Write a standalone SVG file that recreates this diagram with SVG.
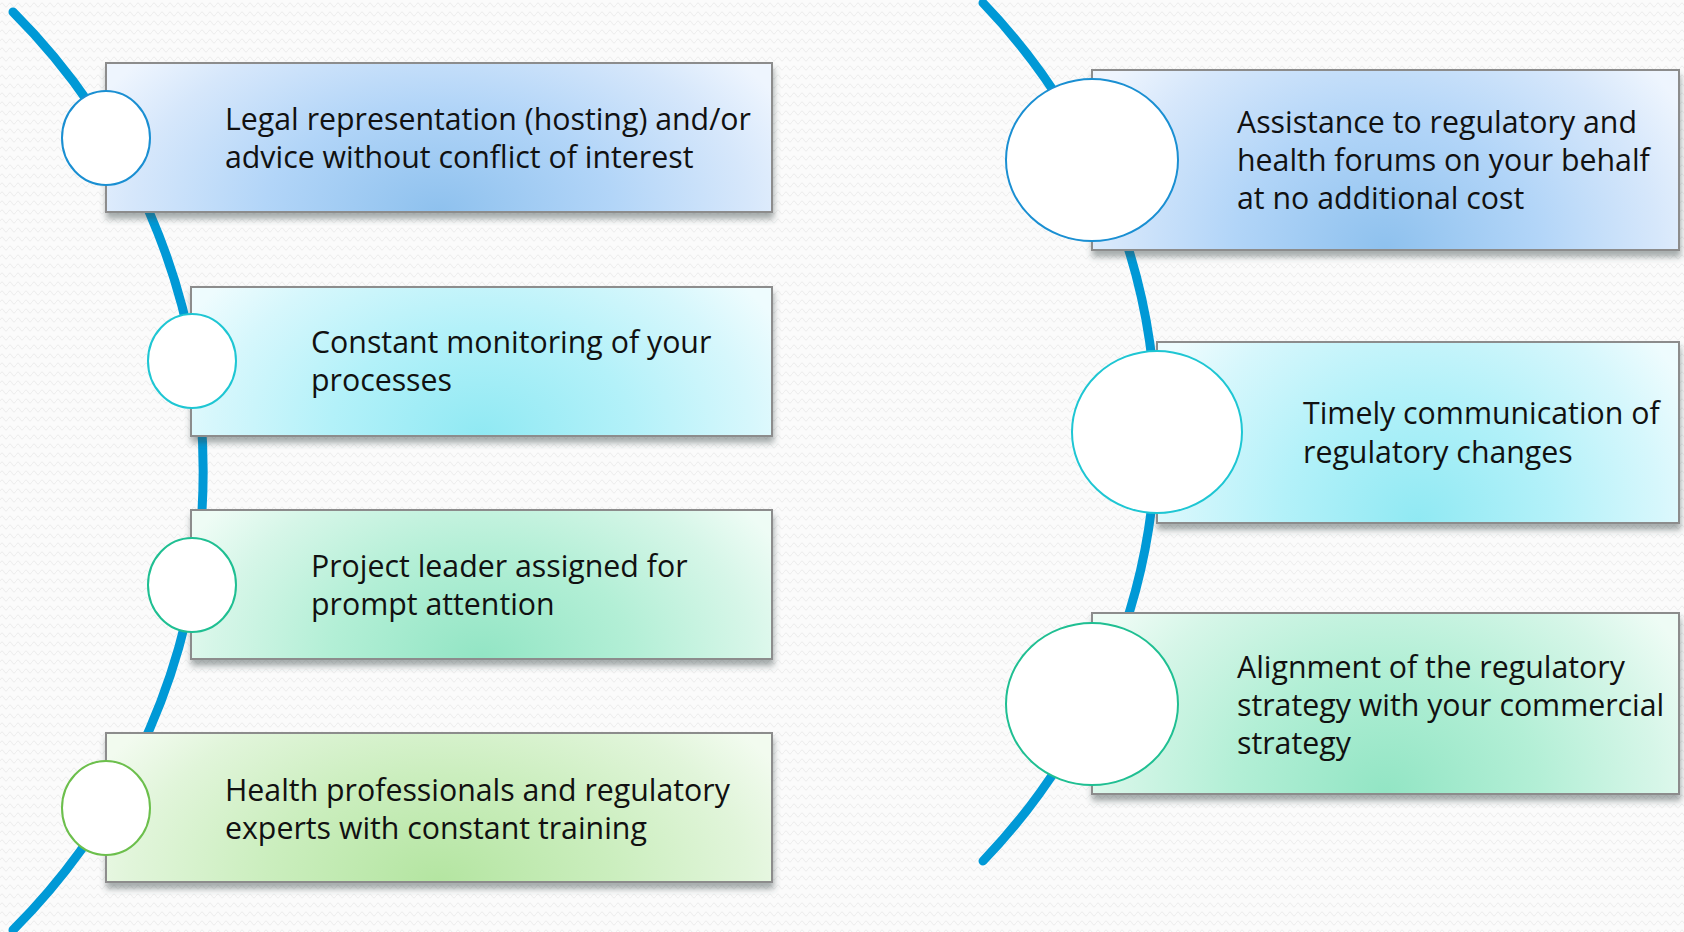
<svg xmlns="http://www.w3.org/2000/svg" width="1684" height="932" viewBox="0 0 1684 932">
<defs>
<pattern id="bgp" width="8" height="9" patternUnits="userSpaceOnUse">
<rect width="8" height="9" fill="#fbfbfb"/>
<path d="M0 5 Q1 3 2 3 Q3 3 4 5 Q5 7 6 7 Q7 7 8 5" fill="none" stroke="#ededed" stroke-width="1"/>
</pattern>
<filter id="sh" x="-5%" y="-10%" width="110%" height="130%">
<feDropShadow dx="1" dy="6" stdDeviation="3" flood-color="#3a4a4a" flood-opacity="0.45"/>
</filter>
<radialGradient id="gBlue" cx="0.5" cy="1" r="1" gradientTransform="translate(0.5,1) scale(0.58,1.6) translate(-0.5,-1)">
<stop offset="0" stop-color="#8ec1ee"/><stop offset="0.45" stop-color="#b2d5f8"/><stop offset="0.8" stop-color="#d6e7fb"/><stop offset="1" stop-color="#eef5fe"/>
</radialGradient>
<radialGradient id="gCyan" cx="0.5" cy="1" r="1" gradientTransform="translate(0.5,1) scale(0.58,1.6) translate(-0.5,-1)">
<stop offset="0" stop-color="#90e9f3"/><stop offset="0.45" stop-color="#b3f1f9"/><stop offset="0.8" stop-color="#d6f7fc"/><stop offset="1" stop-color="#eefcfe"/>
</radialGradient>
<radialGradient id="gMint" cx="0.5" cy="1" r="1" gradientTransform="translate(0.5,1) scale(0.58,1.6) translate(-0.5,-1)">
<stop offset="0" stop-color="#92e5c4"/><stop offset="0.45" stop-color="#b3efd6"/><stop offset="0.8" stop-color="#d6f6e8"/><stop offset="1" stop-color="#eefcf5"/>
</radialGradient>
<radialGradient id="gGreen" cx="0.5" cy="1" r="1" gradientTransform="translate(0.5,1) scale(0.58,1.6) translate(-0.5,-1)">
<stop offset="0" stop-color="#b4e5a1"/><stop offset="0.45" stop-color="#cbeebe"/><stop offset="0.8" stop-color="#e1f5da"/><stop offset="1" stop-color="#f2fbef"/>
</radialGradient>
</defs>
<style>
.box{stroke:#8c8c8c;stroke-width:2;filter:url(#sh)}
.dot{fill:#ffffff;stroke-width:2}
.arc{fill:none;stroke:#0099d6;stroke-width:9;stroke-linecap:round}
.t{font-family:"Open Sans","Noto Sans","DejaVu Sans",sans-serif;font-size:30.3px;fill:#111111}
</style>
<rect width="1684" height="932" fill="url(#bgp)"/>
<g id="connectors">
<path class="arc" d="M13 12 A649 649 0 0 1 13 930"/>
<path class="arc" d="M983 3 A618 618 0 0 1 983 861"/>
</g>
<g id="n1">
<rect class="box" x="106" y="63" width="666" height="149" fill="url(#gBlue)"/>
<ellipse class="dot" cx="106" cy="138" rx="44" ry="47" stroke="#1a8fd2"/>
<text class="t"><tspan x="225" y="130">Legal representation (hosting) and/or</tspan><tspan x="225" y="168">advice without conflict of interest</tspan></text>
</g>
<g id="n2">
<rect class="box" x="191" y="287" width="581" height="149" fill="url(#gCyan)"/>
<ellipse class="dot" cx="192" cy="361" rx="44" ry="47" stroke="#1ec6d3"/>
<text class="t"><tspan x="311" y="353">Constant monitoring of your</tspan><tspan x="311" y="391">processes</tspan></text>
</g>
<g id="n3">
<rect class="box" x="191" y="510" width="581" height="149" fill="url(#gMint)"/>
<ellipse class="dot" cx="192" cy="585" rx="44" ry="47" stroke="#1fbf92"/>
<text class="t"><tspan x="311" y="577">Project leader assigned for</tspan><tspan x="311" y="615">prompt attention</tspan></text>
</g>
<g id="n4">
<rect class="box" x="106" y="733" width="666" height="149" fill="url(#gGreen)"/>
<ellipse class="dot" cx="106" cy="808" rx="44" ry="47" stroke="#6cbf4c"/>
<text class="t"><tspan x="225" y="801">Health professionals and regulatory</tspan><tspan x="225" y="839">experts with constant training</tspan></text>
</g>
<g id="n5">
<rect class="box" x="1092" y="70" width="587" height="180" fill="url(#gBlue)"/>
<ellipse class="dot" cx="1092" cy="160" rx="86" ry="81" stroke="#1a8fd2"/>
<text class="t"><tspan x="1237" y="133">Assistance to regulatory and</tspan><tspan x="1237" y="171">health forums on your behalf</tspan><tspan x="1237" y="209">at no additional cost</tspan></text>
</g>
<g id="n6">
<rect class="box" x="1157" y="342" width="522" height="181" fill="url(#gCyan)"/>
<ellipse class="dot" cx="1157" cy="432" rx="85" ry="81" stroke="#1ec6d3"/>
<text class="t"><tspan x="1303" y="424">Timely communication of</tspan><tspan x="1303" y="463">regulatory changes</tspan></text>
</g>
<g id="n7">
<rect class="box" x="1092" y="613" width="587" height="181" fill="url(#gMint)"/>
<ellipse class="dot" cx="1092" cy="704" rx="86" ry="81" stroke="#1fbf92"/>
<text class="t"><tspan x="1237" y="678">Alignment of the regulatory</tspan><tspan x="1237" y="716">strategy with your commercial</tspan><tspan x="1237" y="754">strategy</tspan></text>
</g>
</svg>
